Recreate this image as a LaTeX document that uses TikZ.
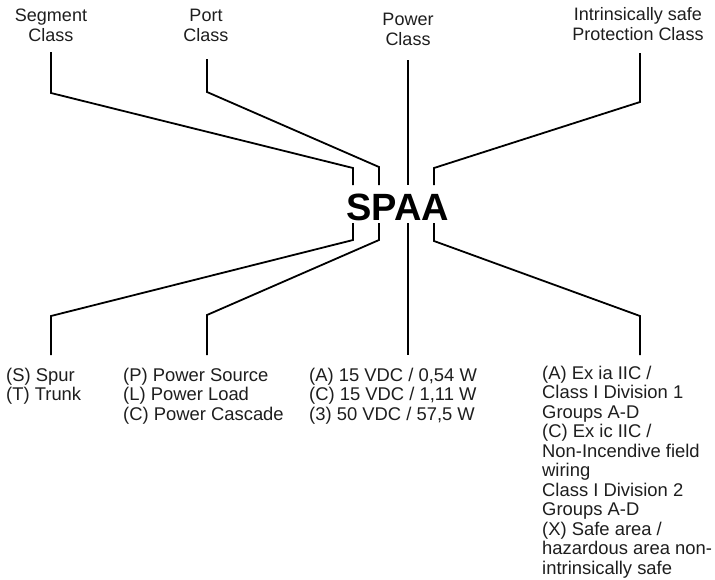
\documentclass[tikz,border=0pt]{standalone}
\usepackage{fontspec}
\setmainfont{Liberation Sans}
\definecolor{txt}{HTML}{1E1E1E}
\begin{document}
\begin{tikzpicture}[x=1pt,y=-1pt,
  conn/.style={line width=1.8pt, line join=miter, draw=black},
  toplabel/.style={font=\fontsize{18}{20}\selectfont, align=center, inner sep=0pt, text=txt, anchor=base},
  botlabel/.style={font=\fontsize{18.4}{19.5}\selectfont, align=left, inner sep=0pt, text=txt, anchor=base west},
  codebox/.style={font=\fontsize{38}{40}\selectfont\bfseries, inner sep=0pt, text=black}]
\useasboundingbox (0,0) rectangle (715,579);
\fill[white] (0,0) rectangle (715,579);

% top labels (anchor = baseline of last line)
\node[toplabel] (seg) at (51,41.5) {Segment\\Class};
\node[toplabel] (port) at (206,41.5) {Port\\Class};
\node[toplabel] (pow) at (408,45) {Power\\Class};
\node[toplabel] (ips) at (638,40.5) {Intrinsically safe\\Protection Class};

% code
\node[codebox, anchor=base] (code) at (398,220) {SPAA};

% bottom labels (anchor = baseline of last line)
\node[botlabel] (segB) at (6,400.5) {(S) Spur\\(T) Trunk};
\node[botlabel] (portB) at (123,420) {(P) Power Source\\(L) Power Load\\(C) Power Cascade};
\node[botlabel] (powB) at (309,420) {(A) 15 VDC / 0,54 W\\(C) 15 VDC / 1,11 W\\(3) 50 VDC / 57,5 W};
\node[botlabel] (ipsB) at (542,574) {(A) Ex ia IIC /\\Class I Division 1\\Groups A-D\\(C) Ex ic IIC /\\Non-Incendive field\\wiring\\Class I Division 2\\Groups A-D\\(X) Safe area /\\hazardous area non-\\intrinsically safe};

% connector end points
\coordinate (segT) at (51,52);
\coordinate (portT) at (207,59);
\coordinate (powT) at (408,60);
\coordinate (ipsT) at (640,53);
\coordinate (cS) at (353,185);
\coordinate (cP) at (379,185);
\coordinate (cA) at (408,185);
\coordinate (cX) at (434,185);
\coordinate (dS) at (353,223);
\coordinate (dP) at (379,223);
\coordinate (dA) at (408,223);
\coordinate (dX) at (434,223);
\coordinate (segD) at (51,355);
\coordinate (portD) at (207,355);
\coordinate (powD) at (408,355);
\coordinate (ipsD) at (640,355);

% upper connectors
\draw[conn] (segT) -- (51,93) -- (353,168) -- (cS);
\draw[conn] (portT) -- (207,92) -- (379,167) -- (cP);
\draw[conn] (powT) -- (cA);
\draw[conn] (ipsT) -- (640,102) -- (434,168) -- (cX);

% lower connectors
\draw[conn] (dS) -- (353,240) -- (51,316) -- (segD);
\draw[conn] (dP) -- (379,240) -- (207,315) -- (portD);
\draw[conn] (dA) -- (powD);
\draw[conn] (dX) -- (434,241) -- (640,316) -- (ipsD);
\end{tikzpicture}
\end{document}
